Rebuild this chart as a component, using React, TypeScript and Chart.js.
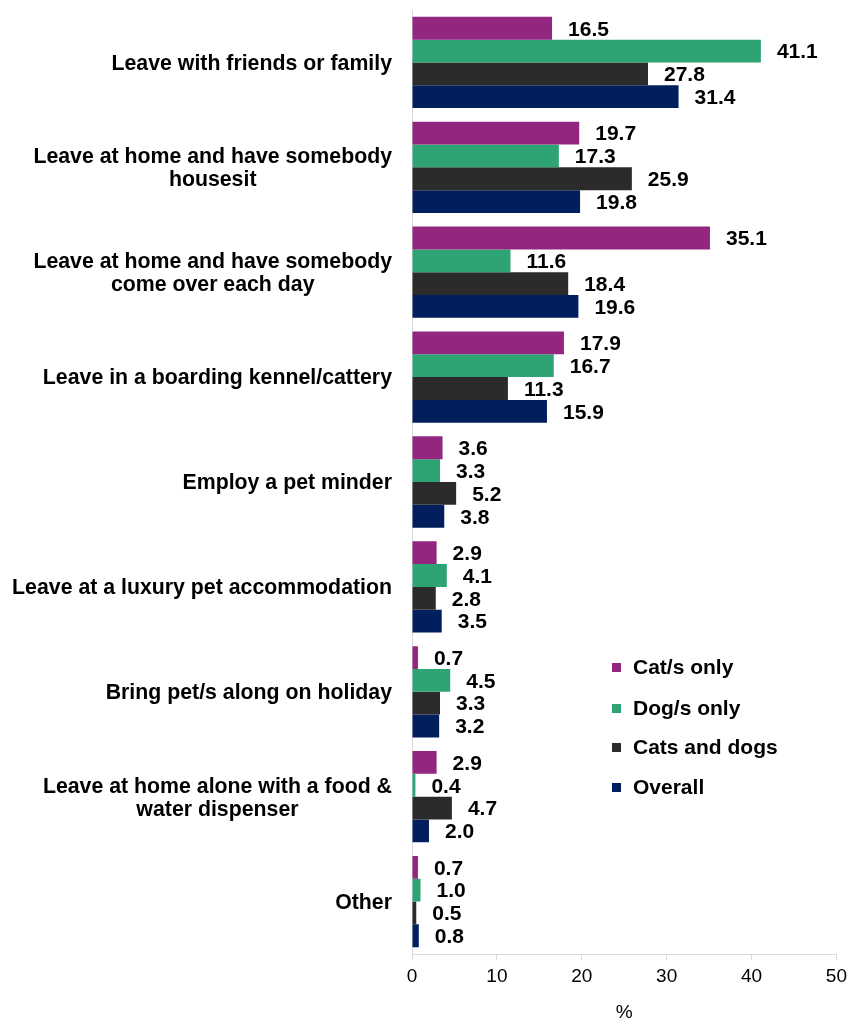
import React, { useEffect, useRef } from "react";
import { Chart, registerables } from "chart.js";

Chart.register(...registerables);

const categories: (string | string[])[] = [
  "Leave with friends or family",
  ["Leave at home and have somebody", "housesit"],
  ["Leave at home and have somebody", "come over each day"],
  "Leave in a boarding kennel/cattery",
  "Employ a pet minder",
  "Leave at a luxury pet accommodation",
  "Bring pet/s along on holiday",
  ["Leave at home alone with a food &", "water dispenser"],
  "Other",
];

const seriesNames = ["Cat/s only", "Dog/s only", "Cats and dogs", "Overall"];
const catsOnly = [16.5, 19.7, 35.1, 17.9, 3.6, 2.9, 0.7, 2.9, 0.7];
const dogsOnly = [41.1, 17.3, 11.6, 16.7, 3.3, 4.1, 4.5, 0.4, 1.0];
const catsAndDogs = [27.8, 25.9, 18.4, 11.3, 5.2, 2.8, 3.3, 4.7, 0.5];
const overall = [31.4, 19.8, 19.6, 15.9, 3.8, 3.5, 3.2, 2.0, 0.8];
const seriesColors = ["#93267f", "#2ea475", "#2b2b2b", "#001f5c"];
const xTicks = [0, 10, 20, 30, 40, 50];
const xTitle = "%";

const FONT = '"Liberation Sans", Arial, sans-serif';

const dataLabelPlugin = {
  id: "dataLabels",
  afterDatasetsDraw(chart: any) {
    const ctx = chart.ctx;
    ctx.save();
    ctx.font = `bold 21px ${FONT}`;
    ctx.fillStyle = "#000";
    ctx.textAlign = "left";
    ctx.textBaseline = "middle";
    chart.data.datasets.forEach((ds: any, di: number) => {
      const meta = chart.getDatasetMeta(di);
      meta.data.forEach((el: any, i: number) => {
        ctx.fillText(Number(ds.data[i]).toFixed(1), el.x + 16, el.y + 1.5);
      });
    });
    ctx.restore();
  },
};

const categoryLabelPlugin = {
  id: "catLabels",
  afterDraw(chart: any) {
    const ctx = chart.ctx;
    const y = chart.scales.y;
    const right = chart.chartArea.left - 20;
    ctx.save();
    ctx.font = `bold 21.3px ${FONT}`;
    ctx.fillStyle = "#000";
    ctx.textBaseline = "middle";
    ctx.textAlign = "center";
    categories.forEach((c, i) => {
      const lines = Array.isArray(c) ? c : [c];
      const yc = y.getPixelForValue(i) + 1.5;
      const maxW = Math.max(...lines.map((l) => ctx.measureText(l).width));
      const cx = right - maxW / 2;
      const lh = 23;
      const y0 = yc - ((lines.length - 1) * lh) / 2;
      lines.forEach((l, k) => ctx.fillText(l, cx, y0 + k * lh));
    });
    ctx.restore();
  },
};

const legendPlugin = {
  id: "customLegend",
  afterDraw(chart: any) {
    const ctx = chart.ctx;
    const rows = [667, 708, 747, 787];
    ctx.save();
    ctx.font = `bold 21px ${FONT}`;
    ctx.textBaseline = "middle";
    ctx.textAlign = "left";
    chart.data.datasets.forEach((ds: any, i: number) => {
      ctx.fillStyle = ds.backgroundColor;
      ctx.fillRect(612, rows[i] - 4, 9, 9);
      ctx.fillStyle = "#000";
      ctx.fillText(ds.label, 633, rows[i] + 1);
    });
    ctx.restore();
  },
};

export default function App() {
  const ref = useRef<HTMLCanvasElement>(null);
  useEffect(() => {
    document.body.style.margin = "0";
    const chart = new Chart(ref.current!, {
      type: "bar",
      data: {
        labels: categories.map((c) => (Array.isArray(c) ? c.join(" ") : c)),
        datasets: [catsOnly, dogsOnly, catsAndDogs, overall].map((d, i) => ({
          label: seriesNames[i],
          data: d,
          backgroundColor: seriesColors[i],
          borderWidth: 0,
          categoryPercentage: 0.87,
          barPercentage: 1.0,
        })),
      },
      options: {
        indexAxis: "y",
        animation: false,
        responsive: false,
        maintainAspectRatio: false,
        layout: { padding: { top: 10, right: 15, left: 0, bottom: 0 } },
        plugins: { legend: { display: false }, tooltip: { enabled: false } },
        scales: {
          x: {
            min: 0,
            max: 50,
            afterBuildTicks: (s: any) => {
              s.ticks = xTicks.map((v) => ({ value: v }));
            },
            afterFit: (s: any) => {
              s.height = 64;
            },
            grid: {
              drawOnChartArea: false,
              drawTicks: true,
              tickLength: 6,
              color: "#d9d9d9",
            },
            border: { display: true, color: "#d9d9d9", width: 1 },
            ticks: {
              color: "#000",
              padding: 5,
              font: { family: FONT, size: 19 },
            },
            title: {
              display: true,
              text: xTitle,
              color: "#000",
              font: { family: FONT, size: 19 },
              padding: { top: 0, bottom: -6 },
            },
          },
          y: {
            afterFit: (s: any) => {
              s.width = 412;
            },
            grid: { display: false, drawTicks: false },
            border: { display: true, color: "#d9d9d9", width: 1 },
            ticks: { display: false },
          },
        },
      },
      plugins: [dataLabelPlugin, categoryLabelPlugin, legendPlugin],
    } as any);
    return () => chart.destroy();
  }, []);
  return <canvas ref={ref} width={852} height={1018} style={{ display: "block" }} />;
}
